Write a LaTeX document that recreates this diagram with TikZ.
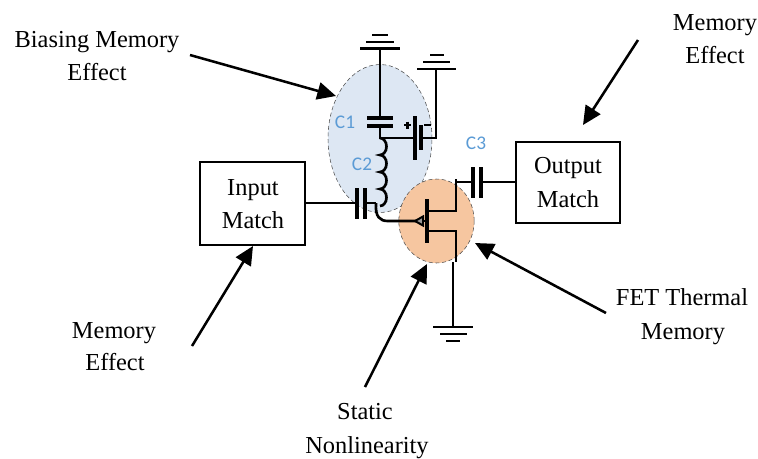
\documentclass[tikz,border=0pt]{standalone}
\usepackage{fontspec}
\setmainfont{Liberation Serif}
\newfontfamily\capfont{Carlito}
\usetikzlibrary{arrows.meta,shapes.geometric}
\definecolor{biasblue}{HTML}{DDE7F3}
\definecolor{fetorange}{HTML}{F6C6A0}
\definecolor{caplabel}{HTML}{5B9BD5}
\tikzset{
  lbl/.style={font=\fontsize{18.3}{20}\selectfont, inner sep=0pt, anchor=base},
  caplbl/.style={font=\capfont\fontsize{14.5}{16}\selectfont, text=caplabel, inner sep=0pt},
  matchbox/.style={draw, line width=1.9pt, fill=white, inner sep=0pt},
  wire/.style={line width=2pt},
  thinwire/.style={line width=1.5pt},
  plate/.style={line width=2.5pt},
  callout/.style={line width=1.9pt, -{Triangle[length=14pt,width=13pt]}}
}
\begin{document}
\begin{tikzpicture}[x=0.75pt,y=-0.75pt]
    \useasboundingbox (0,0) rectangle (758,458);
    % shaded regions
    \node[ellipse, draw=black!70, densely dashed, thin, fill=biasblue, minimum width=78pt, minimum height=111pt, inner sep=0pt] (E1) at (380,138.5) {};
    \node[ellipse, draw=black!70, densely dashed, thin, fill=fetorange, minimum width=56.5pt, minimum height=63pt, inner sep=0pt] (E2) at (436.5,221) {};
    % boxes
    \node[matchbox, minimum width=78.75pt, minimum height=62pt] (IM) at (252.5,203.5) {};
    \node[matchbox, minimum width=78pt, minimum height=60.5pt] (OM) at (568,182.5) {};
    % junctions
    \coordinate (G1) at (380,48.5);
    \coordinate (G2) at (436,69);
    \coordinate (G3) at (453,327);
    \coordinate (C1a) at (380,118);
    \coordinate (C1b) at (380,126);
    \coordinate (J1) at (380,138);
    \coordinate (B1) at (415,138);
    \coordinate (B2) at (421,138);
    \coordinate (B3) at (436,138);
    \coordinate (C2a) at (357,203);
    \coordinate (C2b) at (365,203);
    \coordinate (J2) at (376,203);
    \coordinate (T1) at (416,221);
    \coordinate (D1) at (427,211);
    \coordinate (D2) at (456,211);
    \coordinate (D3) at (456,182);
    \coordinate (S1) at (427,231);
    \coordinate (S2) at (456,231);
    \coordinate (S3) at (453,262);
    \coordinate (C3a) at (473,182);
    \coordinate (C3b) at (481,182);
    % ground symbols
    \draw[plate] (360,48.5) -- (400,48.5);
    \draw[wire] (366,42) -- (394,42);
    \draw[wire] (372,35) -- (388,35);
    \draw[thinwire] (417,69) -- (456,69);
    \draw[thinwire] (423,62) -- (450,62);
    \draw[thinwire] (430,55) -- (444,55);
    \draw[thinwire] (433,327) -- (473,327);
    \draw[thinwire] (440,334) -- (467,334);
    \draw[thinwire] (446,341) -- (460,341);
    % wires
    \draw[wire] (G1) -- (C1a);
    \draw[wire] (C1b) -- (J1) -- (B1);
    \draw[thinwire] (B2) -- (B3) -- (G2);
    \draw[wire] (IM.east |- C2a) -- (C2a);
    \draw[wire] (C2b) -- (J2);
    \draw[wire] (J1) arc[start angle=-90, end angle=90, x radius=6.5, y radius=8.5]
      arc[start angle=-90, end angle=90, x radius=6.5, y radius=8.5]
      arc[start angle=-90, end angle=90, x radius=6.5, y radius=8.5]
      arc[start angle=-90, end angle=90, x radius=6.5, y radius=8.5];
    \draw[wire] (J2) .. controls (375,217) and (380,221) .. (388,221) -- (T1);
    \draw[wire] (D1) -- (D2) -- (456,179);
    \draw[wire] (D3) -- (C3a);
    \draw[wire] (C3b) -- (OM.west |- C3b);
    \draw[wire] (S1) -- (S2) -- (456,262);
    \draw[wire] (S3) -- (G3);
    % capacitor and gate plates
    \draw[plate] (367,118) -- (393,118);
    \draw[plate] (367,126) -- (393,126);
    \draw[plate] (415,116) -- (415,160);
    \draw[plate] (421,125) -- (421,150);
    \draw[plate] (357,188) -- (357,219);
    \draw[plate] (365,188) -- (365,219);
    \draw[plate] (473,167) -- (473,198);
    \draw[plate] (481,167) -- (481,198);
    \draw[plate] (427,199) -- (427,243);
    \draw[line width=1.5pt, fill=black!40] (415,221) -- (423,216.5) -- (423,225.5) -- cycle;
    \draw[wire] (423,221) -- (427,221);
    % battery signs
    \draw[line width=1.7pt] (404,125) -- (411,125);
    \draw[line width=1.7pt] (407.5,121.5) -- (407.5,128.5);
    \draw[line width=1.7pt] (424,125) -- (431,125);
    % callout arrows
    \coordinate (A1) at (190,55);
    \coordinate (A2) at (638,40);
    \coordinate (A3) at (192,346);
    \coordinate (A4) at (365,387);
    \coordinate (A5) at (606,313);
    \coordinate (T2) at (336,96);
    \coordinate (T3) at (583,125);
    \coordinate (T4) at (253,246);
    \coordinate (T5) at (427,264);
    \coordinate (T6) at (475,243);
    \draw[callout] (A1) -- (T2);
    \draw[callout] (A2) -- (T3);
    \draw[callout] (A3) -- (T4);
    \draw[callout] (A4) -- (T5);
    \draw[callout] (A5) -- (T6);
    % labels
    \node[lbl] (L1) at (97,47) {Biasing Memory};
    \node[lbl] (L2) at (97,80) {Effect};
    \node[lbl] (L3) at (715,30) {Memory};
    \node[lbl] (L4) at (715,63) {Effect};
    \node[lbl] (L5) at (253,195) {Input};
    \node[lbl] (L6) at (253,228) {Match};
    \node[lbl] (L7) at (568,173) {Output};
    \node[lbl] (L8) at (568,207) {Match};
    \node[lbl] (L9) at (114,338) {Memory};
    \node[lbl] (L10) at (115,370) {Effect};
    \node[lbl] (L11) at (682,305) {FET Thermal};
    \node[lbl] (L12) at (683,339) {Memory};
    \node[lbl] (L13) at (365,419) {Static};
    \node[lbl] (L14) at (367,453) {Nonlinearity};
    \node[caplbl] (L15) at (345,122) {C1};
    \node[caplbl] (L16) at (362,164) {C2};
    \node[caplbl] (L17) at (476,143) {C3};
  \end{tikzpicture}
\end{document}
